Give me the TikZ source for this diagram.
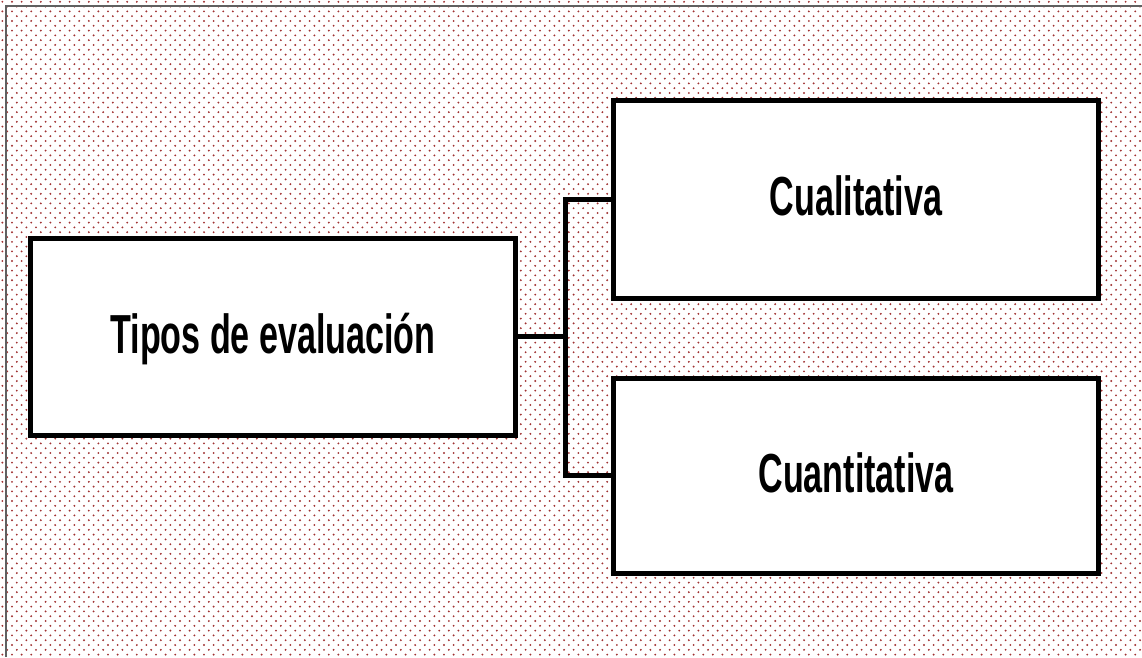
\documentclass[tikz,border=0pt]{standalone}
\usepackage{fontspec}
\newfontfamily\narrowbold{Liberation Sans Bold}[FakeStretch=0.62]
\usetikzlibrary{patterns}
\definecolor{dotred}{RGB}{160,50,50}
\definecolor{framegray}{RGB}{96,96,96}
\pgfdeclarepatternformonly{reddots}{\pgfqpoint{-1pt}{-1pt}}{\pgfqpoint{11pt}{11pt}}{\pgfqpoint{9.6pt}{9.6pt}}{%
  \pgfpathcircle{\pgfqpoint{2.4pt}{2.4pt}}{1.05pt}%
  \pgfpathcircle{\pgfqpoint{7.2pt}{7.2pt}}{1.05pt}%
  \pgfusepath{fill}}
\tikzset{
  box/.style={draw=black, fill=white, line width=5pt, rectangle, outer sep=0pt, inner sep=0pt,
    minimum width=485pt, font=\narrowbold\fontsize{55}{60}\selectfont,
    text height=33pt, text depth=0pt},
  link/.style={draw=black, line width=5pt, line join=miter},
  frame/.style={draw=framegray, line width=2pt}
}
\begin{document}
\begin{tikzpicture}[x=1pt,y=-1pt]
\useasboundingbox (0,0) rectangle (1142,657);
\fill[pattern=reddots, pattern color=dotred] (0,0) rectangle (1142,657);
\draw[frame] (6,657) -- (6,6) -- (1142,6);
\node[box, minimum height=197pt] (L) at (273,336.5) {Tipos de evaluación};
\node[box, minimum height=198pt] (T) at (856,199) {Cualitativa};
\node[box, minimum height=195pt] (B) at (856,475.5) {Cuantitativa};
\coordinate (j) at (565,0);
\draw[link] (T.west) -| (j |- B.west) -- (B.west);
\draw[link] (L.east) -- (L.east -| j);
\end{tikzpicture}
\end{document}
